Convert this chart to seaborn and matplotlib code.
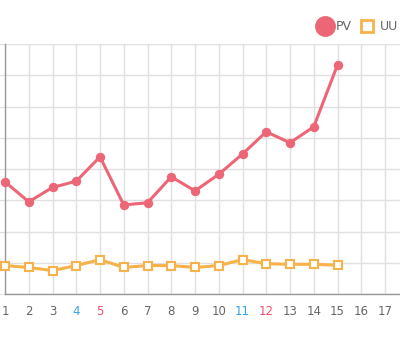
import matplotlib
matplotlib.use("Agg")
import matplotlib.pyplot as plt
from matplotlib.lines import Line2D
import seaborn as sns
import pandas as pd

days = list(range(1, 16))
pv = [3590, 2950, 3410, 3610, 4390, 2850, 2920, 3750, 3300, 3830, 4480, 5190, 4840, 5350, 7330]
uu = [910, 850, 750, 910, 1100, 850, 910, 910, 850, 910, 1100, 970, 950, 950, 920]
xticks = list(range(1, 18))
blue_days = [4, 11]
red_days = [5, 12]

PV_COLOR = "#ec6677"
UU_COLOR = "#f8b24a"
GRID = "#e0e0e0"

sns.set_style("white")
df = pd.DataFrame({"day": days, "PV": pv, "UU": uu})

W, H = 400, 342
fig = plt.figure(figsize=(W / 100, H / 100), dpi=100)
ax = fig.add_axes([5 / W, (H - 294) / H, 395 / W, 250 / H])

sns.lineplot(data=df, x="day", y="PV", ax=ax, color=PV_COLOR, linewidth=2.2,
             marker="o", markersize=6, markeredgecolor=PV_COLOR,
             markerfacecolor=PV_COLOR, clip_on=False, zorder=3)
sns.lineplot(data=df, x="day", y="UU", ax=ax, color=UU_COLOR, linewidth=2.2,
             marker="s", markersize=6, markeredgecolor=UU_COLOR, markeredgewidth=1.5,
             markerfacecolor="white", clip_on=False, zorder=3)

ax.set_xlim(1, 1 + 395 / 23.75)
ax.set_ylim(0, 8000)
ax.set_xticks(xticks)
ax.set_xticklabels([str(t) for t in xticks])
ax.set_yticks(range(0, 8001, 1000))
ax.set_yticklabels([])
ax.grid(True, color=GRID, linewidth=1)
ax.set_axisbelow(True)
ax.set_xlabel("")
ax.set_ylabel("")

for s in ["top", "right"]:
    ax.spines[s].set_visible(False)
ax.spines["left"].set_color("#999999")
ax.spines["bottom"].set_color("#999999")
ax.spines["left"].set_linewidth(1)
ax.spines["bottom"].set_linewidth(1)

ax.tick_params(axis="x", length=5, color=GRID, labelsize=8.5, labelcolor="#666666", pad=3)
ax.tick_params(axis="y", length=5, color=GRID, left=True)
for lbl, t in zip(ax.get_xticklabels(), xticks):
    if t in blue_days:
        lbl.set_color("#36a2eb")
    elif t in red_days:
        lbl.set_color("#f0506e")

# legend (manually placed)
ly = 1 - 26 / H
fig.add_artist(Line2D([324.5 / W], [ly], transform=fig.transFigure, linestyle="none",
                      marker="o", markersize=14, markerfacecolor=PV_COLOR,
                      markeredgecolor=PV_COLOR))
fig.text(336 / W, ly, "PV", ha="left", va="center", fontsize=9, color="#666666")
fig.add_artist(Line2D([366.5 / W], [ly], transform=fig.transFigure, linestyle="none",
                      marker="s", markersize=8.5, markeredgewidth=2,
                      markerfacecolor="white", markeredgecolor=UU_COLOR))
fig.text(380 / W, ly, "UU", ha="left", va="center", fontsize=9, color="#666666")

fig.savefig("out.png", dpi=100)
